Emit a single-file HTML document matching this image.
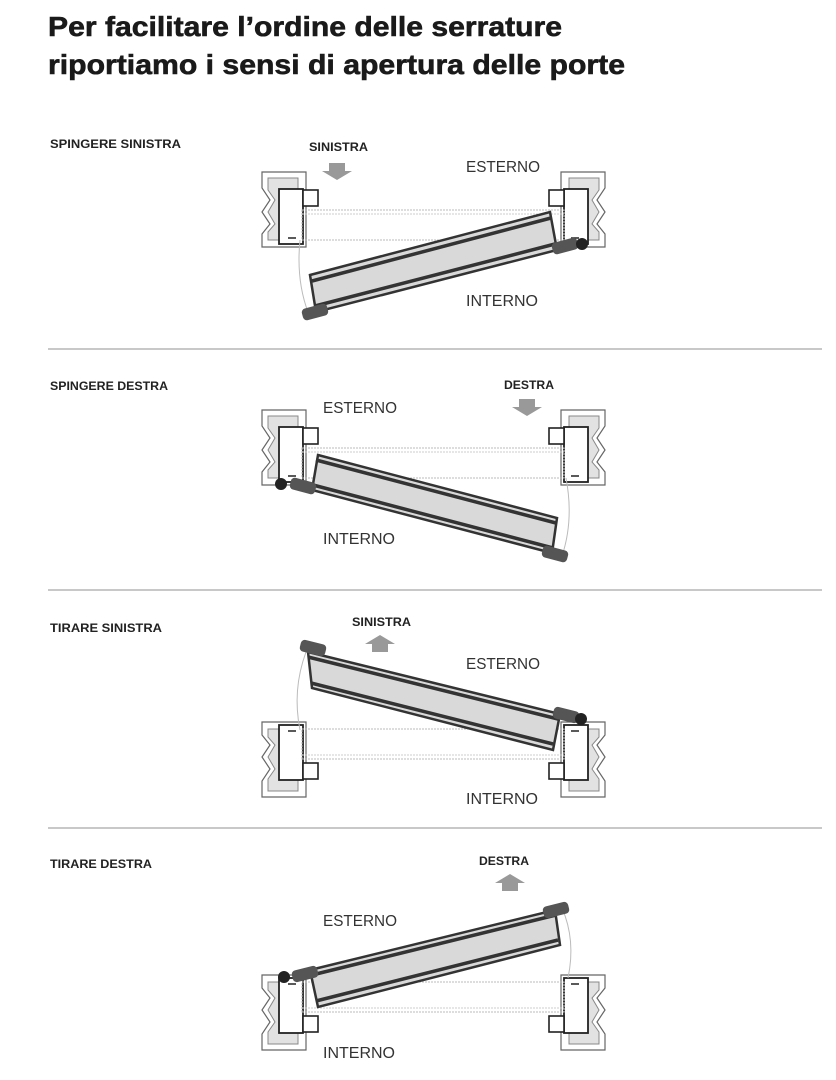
<!DOCTYPE html>
<html><head><meta charset="utf-8"><style>
html,body{margin:0;padding:0;background:#fff;}
svg{display:block;}
</style></head><body>
<svg width="836" height="1080" viewBox="0 0 836 1080" xmlns="http://www.w3.org/2000/svg" font-family="Liberation Sans, sans-serif">
<defs>
<g id="fr">
 <path d="M0,0 H44 V75 H0 V62 L8,52 L0,40 L8,28 L0,16 Z" fill="#fff" stroke="#666" stroke-width="1.2"/>
 <path d="M6,6 H36 V68 H6 V60 L13,52 L6,40 L13,28 L6,18 Z" fill="#e2e2e2" stroke="#888" stroke-width="1"/>
 <rect x="17" y="17" width="24" height="55" fill="#fff" stroke="#222" stroke-width="1.8"/>
 <rect x="41" y="18" width="15" height="16" fill="#fff" stroke="#222" stroke-width="1.6"/>
 <line x1="26" y1="66" x2="34" y2="66" stroke="#222" stroke-width="1.5"/>
</g>
<g id="ghost">
 <rect x="40" y="38" width="262" height="30" fill="none" stroke="#bbb" stroke-width="1" stroke-dasharray="2,1"/>
 <line x1="40" y1="42" x2="302" y2="42" stroke="#ccc" stroke-width="1" stroke-dasharray="2,1"/>
</g>
</defs>
<text x="48" y="36" font-size="28" font-weight="bold" fill="#1a1a1a" stroke="#1a1a1a" stroke-width="0.6" textLength="514" lengthAdjust="spacingAndGlyphs">Per facilitare l’ordine delle serrature</text>
<text x="48" y="74" font-size="28" font-weight="bold" fill="#1a1a1a" stroke="#1a1a1a" stroke-width="0.6" textLength="577" lengthAdjust="spacingAndGlyphs">riportiamo i sensi di apertura delle porte</text>

<g font-size="12" font-weight="bold" fill="#222">
<text x="50" y="148" textLength="131" lengthAdjust="spacingAndGlyphs">SPINGERE SINISTRA</text>
<text x="50" y="390" textLength="118" lengthAdjust="spacingAndGlyphs">SPINGERE DESTRA</text>
<text x="50" y="632" textLength="112" lengthAdjust="spacingAndGlyphs">TIRARE SINISTRA</text>
<text x="50" y="868" textLength="102" lengthAdjust="spacingAndGlyphs">TIRARE DESTRA</text>
<text x="309" y="151" textLength="59" lengthAdjust="spacingAndGlyphs">SINISTRA</text>
<text x="504" y="389" textLength="50" lengthAdjust="spacingAndGlyphs">DESTRA</text>
<text x="352" y="626" textLength="59" lengthAdjust="spacingAndGlyphs">SINISTRA</text>
<text x="479" y="865" textLength="50" lengthAdjust="spacingAndGlyphs">DESTRA</text>
</g>
<g font-size="16" fill="#333">
<text x="466" y="172" textLength="74" lengthAdjust="spacingAndGlyphs">ESTERNO</text>
<text x="466" y="306" textLength="72" lengthAdjust="spacingAndGlyphs">INTERNO</text>
<text x="323" y="413" textLength="74" lengthAdjust="spacingAndGlyphs">ESTERNO</text>
<text x="323" y="544" textLength="72" lengthAdjust="spacingAndGlyphs">INTERNO</text>
<text x="466" y="669" textLength="74" lengthAdjust="spacingAndGlyphs">ESTERNO</text>
<text x="466" y="804" textLength="72" lengthAdjust="spacingAndGlyphs">INTERNO</text>
<text x="323" y="926" textLength="74" lengthAdjust="spacingAndGlyphs">ESTERNO</text>
<text x="323" y="1058" textLength="72" lengthAdjust="spacingAndGlyphs">INTERNO</text>
</g>

<g stroke="#c8c8c8" stroke-width="2">
<line x1="48" y1="349" x2="822" y2="349"/>
<line x1="48" y1="590" x2="822" y2="590"/>
<line x1="48" y1="828" x2="822" y2="828"/>
</g>

<g fill="#999">
<path d="M329,163 H345 V171 H352 L337,180 L322,171 H329 Z"/>
<path d="M519,399 H535 V407 H542 L527,416 L512,407 H519 Z"/>
<path d="M372,652 H388 V644 H395 L380,635 L365,644 H372 Z"/>
<path d="M502,891 H518 V883 H525 L510,874 L495,883 H502 Z"/>
</g>

<!-- Diagram 1 -->
<use href="#fr" transform="translate(262,172)"/>
<use href="#fr" transform="translate(605,172) scale(-1,1)"/>
<use href="#ghost" transform="translate(262,172)"/>
<path d="M300,240 Q296,280 308,312" fill="none" stroke="#bbb" stroke-width="1"/>
<polygon points="310,275 550,212 557,250 316,312" fill="#d9d9d9" stroke="#333" stroke-width="2.5"/>
<line x1="312" y1="281" x2="551" y2="218" stroke="#333" stroke-width="3.5"/>
<line x1="315" y1="306" x2="555" y2="244" stroke="#333" stroke-width="3.5"/>
<rect x="302" y="306" width="26" height="12" rx="4" fill="#555" transform="rotate(-15 315 312)"/>
<rect x="552" y="240" width="26" height="12" rx="4" fill="#555" transform="rotate(-15 565 246)"/>
<circle cx="582" cy="244" r="6" fill="#222"/>

<!-- Diagram 2 -->
<use href="#fr" transform="translate(262,410)"/>
<use href="#fr" transform="translate(605,410) scale(-1,1)"/>
<use href="#ghost" transform="translate(262,410)"/>
<path d="M566,478 Q574,520 562,556" fill="none" stroke="#bbb" stroke-width="1"/>
<polygon points="318,455 557,518 552,553 312,490" fill="#d9d9d9" stroke="#333" stroke-width="2.5"/>
<line x1="316" y1="460" x2="556" y2="523" stroke="#333" stroke-width="3.5"/>
<line x1="313" y1="485" x2="553" y2="548" stroke="#333" stroke-width="3.5"/>
<rect x="290" y="480" width="26" height="12" rx="4" fill="#555" transform="rotate(15 303 486)"/>
<rect x="542" y="548" width="26" height="12" rx="4" fill="#555" transform="rotate(15 555 554)"/>
<circle cx="281" cy="484" r="6" fill="#222"/>

<!-- Diagram 3 -->
<use href="#fr" transform="translate(262,797) scale(1,-1)"/>
<use href="#fr" transform="translate(605,797) scale(-1,-1)"/>
<use href="#ghost" transform="translate(262,797) scale(1,-1)"/>
<path d="M300,730 Q292,690 306,652" fill="none" stroke="#bbb" stroke-width="1"/>
<polygon points="308,652 560,714 553,750 312,688" fill="#d9d9d9" stroke="#333" stroke-width="2.5"/>
<line x1="308" y1="657" x2="558" y2="719" stroke="#333" stroke-width="3.5"/>
<line x1="311" y1="683" x2="553" y2="744" stroke="#333" stroke-width="3.5"/>
<rect x="300" y="642" width="26" height="12" rx="4" fill="#555" transform="rotate(14 313 648)"/>
<rect x="553" y="709" width="26" height="12" rx="4" fill="#555" transform="rotate(14 566 715)"/>
<circle cx="581" cy="719" r="6" fill="#222"/>

<!-- Diagram 4 -->
<use href="#fr" transform="translate(262,1050) scale(1,-1)"/>
<use href="#fr" transform="translate(605,1050) scale(-1,-1)"/>
<use href="#ghost" transform="translate(262,1050) scale(1,-1)"/>
<path d="M568,978 Q576,940 562,908" fill="none" stroke="#bbb" stroke-width="1"/>
<polygon points="310,970 555,910 560,945 318,1007" fill="#d9d9d9" stroke="#333" stroke-width="2.5"/>
<line x1="312" y1="975" x2="556" y2="915" stroke="#333" stroke-width="3.5"/>
<line x1="316" y1="1001" x2="558" y2="940" stroke="#333" stroke-width="3.5"/>
<rect x="292" y="968" width="26" height="12" rx="4" fill="#555" transform="rotate(-14 305 974)"/>
<rect x="543" y="904" width="26" height="12" rx="4" fill="#555" transform="rotate(-14 556 910)"/>
<circle cx="284" cy="977" r="6" fill="#222"/>
</svg>
</body></html>
